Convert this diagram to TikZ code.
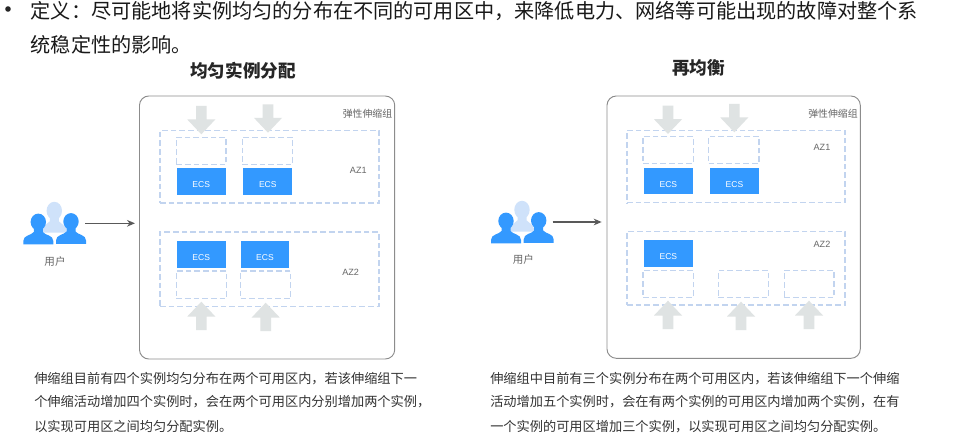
\documentclass[tikz,border=0pt]{standalone}
\usepackage{fontspec}
\setmainfont{Noto Sans CJK SC}
\newfontfamily\latinfont{Liberation Sans}
\usetikzlibrary{arrows.meta}
\definecolor{blueB}{HTML}{3399FF}
\definecolor{blueL}{HTML}{CFE2FA}
\definecolor{dashC}{HTML}{C2D4EF}
\definecolor{arrC}{HTML}{DFE3E3}
\definecolor{lineC}{HTML}{8C8C8C}
\definecolor{txtC}{HTML}{666666}
\definecolor{capC}{HTML}{333333}
\newcommand{\fs}[1]{\fontsize{#1}{#1}\selectfont}
\newcommand{\boxn}[6]{\node[#6, minimum width={(#4-#2)*0.75pt}, minimum height={(#5-#3)*0.75pt}] (#1) at ({(#2+#4)/2},{(#3+#5)/2}) {};}
\newcommand{\ecs}[5]{\node[ecsbox, minimum width={(#4-#2)*0.75pt}, minimum height={(#5-#3)*0.75pt}] (#1) at ({(#2+#4)/2},{(#3+#5)/2}) {\raisebox{-4.7pt}[0pt][0pt]{ECS}};}
\tikzset{
  x=0.75pt, y=-0.75pt,
  groupbox/.style={draw=lineC, line width=0.7pt, rounded corners=7pt, inner sep=0pt, outer sep=0pt},
  azbox/.style={draw=dashC, line width=1.1pt, dash pattern=on 4.3pt off 2.2pt, inner sep=0pt, outer sep=0pt},
  slotbox/.style={draw=dashC, line width=1.1pt, dash pattern=on 4.3pt off 2.2pt, inner sep=0pt, outer sep=0pt},
  ecsbox/.style={fill=blueB, draw=none, text=white, inner sep=0pt, outer sep=0pt, font=\latinfont\fs{6.4}},
  smalltxt/.style={text=txtC, inner sep=0pt, font=\fs{7.4}},
  azlabel/.style={text=txtC, inner sep=0pt, font=\latinfont\fs{6.8}},
  headtxt/.style={text=black!85, inner sep=0pt, font=\fs{13.2}\bfseries},
  captxt/.style={text=capC, inner sep=0pt, anchor=west, font=\fs{9.9}},
  bodytxt/.style={text=black!90, inner sep=0pt, anchor=west, font=\fs{15.12}},
  flow/.style={draw=black!65, line width=0.9pt, -{Stealth[length=6pt,width=5pt]}},
  pics/down/.style={code={\fill[arrC] (-5.3,-28.3) -- (5.3,-28.3) -- (5.3,-14.8) -- (14,-14.8) -- (0,0) -- (-14,-14.8) -- (-5.3,-14.8) -- cycle;}},
  pics/up/.style={code={\fill[arrC] (-5.3,28.3) -- (5.3,28.3) -- (5.3,14.8) -- (14,14.8) -- (0,0) -- (-14,14.8) -- (-5.3,14.8) -- cycle;}},
  pics/person/.style={code={
    \fill[#1] (15,8) ellipse (7.7 and 8.4);
    \fill[#1] (0,30.3) -- (0,27) .. controls (0,21) and (8,21.5) .. (10.5,18) -- (10.5,13) -- (19.5,13) -- (19.5,18) .. controls (22,21.5) and (30,21) .. (30,27) -- (30,30.3) -- cycle;}},
  pics/backperson/.style={code={
    \fill[blueL] (15,8.5) ellipse (7.7 and 9);
    \fill[blueL] (3,30.3) -- (3,27) .. controls (4,23) and (8,22) .. (10.5,19) -- (10.5,13) -- (19.5,13) -- (19.5,19) .. controls (22,22) and (26,23) .. (27,27) -- (27,30.3) -- cycle;}},
}
\begin{document}
\begin{tikzpicture}
\useasboundingbox (0,0) rectangle (968,442);
\fill[white] (0,0) rectangle (968,442);
% top text
\fill[black!85] (8,9) circle (2.8);
\node[bodytxt] (l1) at (30.5,11) {定义：尽可能地将实例均匀的分布在不同的可用区中，来降低电力、网络等可能出现的故障对整个系};
\node[bodytxt] (l2) at (30.5,45) {统稳定性的影响。};
\node[headtxt] (t1) at (243,71) {均匀实例分配};
\node[headtxt] (t2) at (698.5,68) {再均衡};
% left panel
\boxn{gA}{139.5}{96}{394.7}{359}{groupbox}
\node[smalltxt] (gAl) at (367.5,113.3) {弹性伸缩组};
\boxn{azA1}{160}{130.7}{379}{203}{azbox}
\boxn{azA2}{160}{232}{379}{306.7}{azbox}
\node[azlabel] (azA1l) at (358.3,170) {AZ1};
\node[azlabel] (azA2l) at (350.7,272.3) {AZ2};
\boxn{sA1}{176.3}{137.3}{226}{164.7}{slotbox}
\boxn{sA2}{242.3}{137.3}{292.7}{164.7}{slotbox}
\ecs{eA1}{176.7}{168.3}{225.7}{195}{}
\ecs{eA2}{243.3}{168.3}{292.3}{195}{}
\ecs{eA3}{176.7}{241.3}{225.7}{268}{}
\ecs{eA4}{240.7}{241.3}{289.3}{268}{}
\boxn{sA3}{176.3}{271}{226.3}{298.7}{slotbox}
\boxn{sA4}{240.7}{271}{290.7}{298.7}{slotbox}
\pic at (201.3,134.3) {down};
\pic at (268,132.7) {down};
\pic at (201.3,301.7) {up};
\pic at (265.7,302.7) {up};
\pic at (39.3,202.3) {backperson};
\pic at (23.3,214) {person=blueB};
\pic at (56,213.5) {person=blueB};
\coordinate (uA) at (85.3,223.3);
\draw[flow, shorten >=3.4pt] (uA) -- (uA -| gA.west);
\node[smalltxt,font=\fs{7.9}] (uAl) at (55,261.7) {用户};
% right panel
\boxn{gB}{607}{96}{860.3}{358.3}{groupbox}
\node[smalltxt] (gBl) at (833,113.3) {弹性伸缩组};
\boxn{azB1}{627}{130.3}{845}{202.7}{azbox}
\boxn{azB2}{627}{231.3}{845}{305}{azbox}
\node[azlabel] (azB1l) at (822,147) {AZ1};
\node[azlabel] (azB2l) at (822,244.3) {AZ2};
\boxn{sB1}{643}{136.3}{693.3}{163.7}{slotbox}
\boxn{sB2}{708.7}{136.3}{759}{163.7}{slotbox}
\ecs{eB1}{643.7}{167.7}{693}{194.3}{}
\ecs{eB2}{710}{167.7}{759}{194.3}{}
\ecs{eB3}{643.7}{240}{693}{266.7}{}
\boxn{sB3}{643}{270.3}{693.3}{297.7}{slotbox}
\boxn{sB4}{718.3}{270.3}{768.3}{297.7}{slotbox}
\boxn{sB5}{784.3}{270.3}{834}{297.7}{slotbox}
\pic at (668,134) {down};
\pic at (734.3,132.3) {down};
\pic at (668,300.7) {up};
\pic at (741,301.7) {up};
\pic at (809,300.7) {up};
\pic at (507,201.3) {backperson};
\pic at (491,213) {person=blueB};
\pic at (523.7,212.5) {person=blueB};
\coordinate (uB) at (552.7,222);
\draw[flow, shorten >=4pt] (uB) -- (uB -| gB.west);
\node[smalltxt,font=\fs{7.9}] (uBl) at (523.3,260) {用户};
% captions
\node[captxt] (cA1) at (34,379) {伸缩组目前有四个实例均匀分布在两个可用区内，若该伸缩组下一};
\node[captxt] (cA2) at (34,402) {个伸缩活动增加四个实例时，会在两个可用区内分别增加两个实例，};
\node[captxt] (cA3) at (34,426.5) {以实现可用区之间均匀分配实例。};
\node[captxt] (cB1) at (490,379) {伸缩组中目前有三个实例分布在两个可用区内，若该伸缩组下一个伸缩};
\node[captxt] (cB2) at (490,402) {活动增加五个实例时，会在有两个实例的可用区内增加两个实例，在有};
\node[captxt] (cB3) at (490,426.5) {一个实例的可用区增加三个实例，以实现可用区之间均匀分配实例。};
\end{tikzpicture}
\end{document}
